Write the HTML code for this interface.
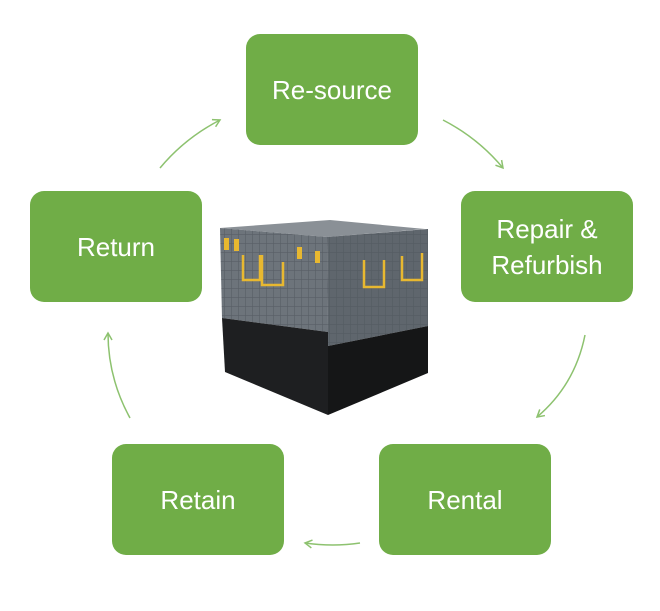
<!DOCTYPE html>
<html><head><style>
body{margin:0;width:660px;height:611px;background:#fff;position:relative;overflow:hidden;font-family:"Liberation Sans",sans-serif}
.b{position:absolute;width:172px;height:111px;background:#70AD47;border-radius:14px;color:#fff;font-size:26px;display:flex;align-items:center;justify-content:center;text-align:center;line-height:36px}
svg{position:absolute;left:0;top:0}
</style></head><body>
<svg width="660" height="611">
<defs><marker id="a" markerWidth="10" markerHeight="10" refX="8" refY="5" orient="auto" markerUnits="userSpaceOnUse"><path d="M1,1 L8,5 L1,9" fill="none" stroke="#8DC26F" stroke-width="1.5"/></marker>
<pattern id="g" width="7" height="9" patternUnits="userSpaceOnUse"><path d="M0,0 H7 M0,0 V9" stroke="#4a5056" stroke-width="1.2" fill="none"/></pattern></defs>
<g fill="none" stroke="#8DC26F" stroke-width="1.5" marker-end="url(#a)">
<path d="M160,168 Q185,138 220,120"/>
<path d="M443,120 Q478,138 503,168"/>
<path d="M585,335 Q575,385 537,417"/>
<path d="M360,543 Q333,547 305,543"/>
<path d="M130,418 Q108,378 108,333"/>
</g>
<polygon points="220,228 330,220 425,229 327,237" fill="#8a9096"/>
<polygon points="220,228 327,237 328,332 222,318" fill="#6d747b"/>
<polygon points="220,228 327,237 328,332 222,318" fill="url(#g)" opacity="0.6"/>
<polygon points="327,237 428,229 428,326 328,346" fill="#5f666d"/>
<polygon points="327,237 428,229 428,326 328,346" fill="url(#g)" opacity="0.5"/>
<polygon points="222,318 328,332 328,415 225,372" fill="#1e1f21"/>
<polygon points="328,346 428,326 428,373 328,415" fill="#151617"/>
<g fill="none" stroke="#e8b830" stroke-width="2.5">
<path d="M243,255 V280 H260 V255 M262,255 V285 H283 V262"/>
<path d="M364,260 V287 H384 V260 M402,256 V280 H422 V253"/>
</g>
<g fill="#e8b830"><rect x="224" y="238" width="5" height="12"/><rect x="234" y="239" width="5" height="12"/><rect x="297" y="247" width="5" height="12"/><rect x="315" y="251" width="5" height="12"/></g>
</svg>
<div class="b" style="left:246px;top:34px">Re-source</div>
<div class="b" style="left:461px;top:191px">Repair &amp;<br>Refurbish</div>
<div class="b" style="left:379px;top:444px">Rental</div>
<div class="b" style="left:112px;top:444px">Retain</div>
<div class="b" style="left:30px;top:191px">Return</div>
</body></html>
